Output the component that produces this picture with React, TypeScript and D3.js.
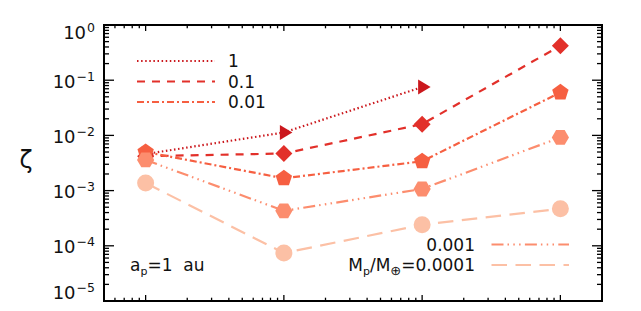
import React from "react";
import * as d3 from "d3";

// planet mass ratios (legend order) and orbital distances
const massLabels = ["1", "0.1", "0.01", "0.001", "0.0001"];
const xValues = [1, 10, 100, 1000];

// zeta values per mass series (null = no point)
const zeta1 = [4.6e-3, 1.13e-2, 7.5e-2, null];
const zeta01 = [4.2e-3, 4.7e-3, 1.6e-2, 0.42];
const zeta001 = [5.0e-3, 1.67e-3, 3.4e-3, 6.0e-2];
const zeta0001 = [3.6e-3, 4.3e-4, 1.07e-3, 9.2e-3];
const zeta00001 = [1.37e-3, 7.4e-5, 2.4e-4, 4.7e-4];

const seriesValues = [zeta1, zeta01, zeta001, zeta0001, zeta00001];
const colors = ["#cb181d", "#e2302a", "#f65f41", "#fc8d6e", "#fcc0a5"];
const dashes = ["1.5 2.6", "8 7", "7 3 2 3", "12 4 1.5 4.3 1.5 4.3 1.5 4.3", "15.5 8.5"];
const markers = ["triangle", "diamond", "pentagon", "hexagon", "circle"];

const yTickExps = [0, -1, -2, -3, -4, -5];

const W = 641;
const H = 311;
const left = 104;
const right = 602;
const top = 25;
const bottom = 301;
const FONT = "'DejaVu Sans', sans-serif";

const polygon = (n: number, r: number, rot: number) =>
  d3.range(n).map((i) => {
    const a = rot + (i * 2 * Math.PI) / n;
    return [r * Math.cos(a), r * Math.sin(a)] as [number, number];
  });

const Marker = ({ kind, x, y, color }: { kind: string; x: number; y: number; color: string }) => {
  let pts: [number, number][] = [];
  if (kind === "circle") return <circle cx={x} cy={y} r={8.5} fill={color} />;
  if (kind === "triangle") pts = [[-4, -7.5], [-4, 7.5], [8.5, 0]];
  if (kind === "diamond") pts = [[0, -8.5], [8.5, 0], [0, 8.5], [-8.5, 0]];
  if (kind === "pentagon") pts = polygon(5, 8.6, -Math.PI / 2);
  if (kind === "hexagon") pts = polygon(6, 8.6, 0);
  return (
    <polygon
      points={pts.map(([px, py]) => `${x + px},${y + py}`).join(" ")}
      fill={color}
    />
  );
};

const App = () => {
  const xScale = d3.scaleLog().domain([0.5, 2000]).range([left, right]);
  const yScale = d3.scaleLog().domain([1e-5, 1]).range([bottom, top]);

  const xMinor: number[] = [];
  [0.1, 1, 10, 100, 1000].forEach((d) =>
    d3.range(2, 10).forEach((m) => {
      const v = d * m;
      if (v > 0.5 && v < 2000) xMinor.push(v);
    })
  );
  const yMinor: number[] = [];
  yTickExps.slice(1).forEach((e) =>
    d3.range(2, 10).forEach((m) => yMinor.push(m * Math.pow(10, e)))
  );

  const line = d3
    .line<[number, number]>()
    .x((d) => xScale(d[0]))
    .y((d) => yScale(d[1]));

  const tk = { stroke: "#000", strokeWidth: 1.3 };

  return (
    <svg
      width={W}
      height={H}
      style={{ position: "absolute", left: 0, top: 0, background: "#fff" }}
      fontFamily={FONT}
    >
      {/* series lines */}
      {seriesValues.map((vals, i) => {
        const pts = xValues
          .map((x, j) => [x, vals[j]] as [number, number | null])
          .filter((p) => p[1] !== null) as [number, number][];
        return (
          <path
            key={`l${i}`}
            d={line(pts) ?? ""}
            fill="none"
            stroke={colors[i]}
            strokeWidth={2.2}
            strokeDasharray={dashes[i]}
          />
        );
      })}
      {/* markers */}
      {seriesValues.map((vals, i) =>
        xValues.map((x, j) =>
          vals[j] === null ? null : (
            <Marker
              key={`m${i}-${j}`}
              kind={markers[i]}
              x={xScale(x)}
              y={yScale(vals[j] as number)}
              color={colors[i]}
            />
          )
        )
      )}

      {/* x ticks top & bottom */}
      {xValues.map((v) => (
        <g key={`xM${v}`}>
          <line x1={xScale(v)} x2={xScale(v)} y1={bottom} y2={bottom - 6} {...tk} />
          <line x1={xScale(v)} x2={xScale(v)} y1={top} y2={top + 6} {...tk} />
        </g>
      ))}
      {xMinor.map((v) => (
        <g key={`xm${v}`}>
          <line x1={xScale(v)} x2={xScale(v)} y1={bottom} y2={bottom - 3.3} {...tk} />
          <line x1={xScale(v)} x2={xScale(v)} y1={top} y2={top + 3.3} {...tk} />
        </g>
      ))}
      {/* y ticks left & right */}
      {yTickExps.map((e) => {
        const y = yScale(Math.pow(10, e));
        return (
          <g key={`yM${e}`}>
            <line x1={left} x2={left + 10} y1={y} y2={y} {...tk} />
            <line x1={right} x2={right - 10} y1={y} y2={y} {...tk} />
          </g>
        );
      })}
      {yMinor.map((v) => {
        const y = yScale(v);
        return (
          <g key={`ym${v}`}>
            <line x1={left} x2={left + 5} y1={y} y2={y} {...tk} />
            <line x1={right} x2={right - 5} y1={y} y2={y} {...tk} />
          </g>
        );
      })}
      <rect
        x={left}
        y={top}
        width={right - left}
        height={bottom - top}
        fill="none"
        stroke="#000"
        strokeWidth={2}
      />

      {/* y tick labels */}
      {yTickExps.map((e) => {
        const c = Math.min(Math.max(yScale(Math.pow(10, e)) + 1, 32.5), 292.5);
        return (
          <text key={`yl${e}`} x={95} y={c + 6.5} textAnchor="end" fontSize={18} fill="#111">
            10
            <tspan dx={1} dy={-7} fontSize={12.5}>
              {e === 0 ? "0" : `\u2212${-e}`}
            </tspan>
          </text>
        );
      })}

      {/* y title */}
      <text x={26} y={168} textAnchor="middle" fontSize={24} fill="#111">
        ζ
      </text>

      {/* legend top-left */}
      {[0, 1, 2].map((i) => {
        const y = 61 + i * 20.5;
        return (
          <g key={`lg${i}`}>
            <line x1={137} x2={215} y1={y} y2={y} stroke={colors[i]} strokeWidth={2.2} strokeDasharray={dashes[i]} />
            <text x={228} y={y} dy="0.36em" fontSize={17} fill="#111">
              {massLabels[i]}
            </text>
          </g>
        );
      })}

      {/* legend bottom-right */}
      {[3, 4].map((i, k) => {
        const y = 244.5 + k * 20.5;
        return (
          <g key={`lg${i}`}>
            <line x1={491.5} x2={569} y1={y} y2={y} stroke={colors[i]} strokeWidth={2.2} strokeDasharray={dashes[i]} />
            <text x={475} y={y} dy="0.36em" textAnchor="end" fontSize={17} fill="#111">
              {i === 4 ? (
                <>
                  M
                  <tspan fontSize={11} dy={4}>p</tspan>
                  <tspan dy={-4}>/M</tspan>
                  <tspan fontSize={13} dy={4}>⊕</tspan>
                  <tspan dy={-4}>=0.0001</tspan>
                </>
              ) : (
                massLabels[i]
              )}
            </text>
          </g>
        );
      })}

      {/* annotation */}
      <text x={130} y={271} fontSize={17} fill="#111">
        a<tspan fontSize={11} dy={4}>p</tspan>
        <tspan dy={-4}>{"=1\u00A0\u00A0au"}</tspan>
      </text>
    </svg>
  );
};

export default App;
